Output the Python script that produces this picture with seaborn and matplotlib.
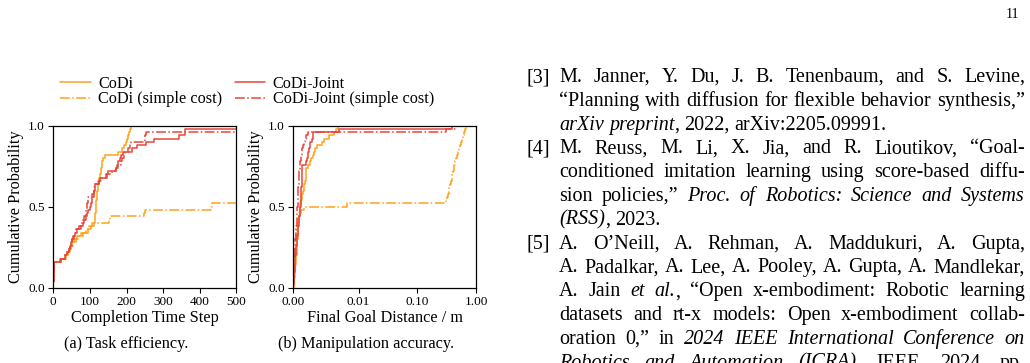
import matplotlib
matplotlib.use("Agg")
import matplotlib.pyplot as plt
import numpy as np
import pandas as pd
import seaborn as sns
from matplotlib.lines import Line2D

# ---------------- data ----------------
FAIL = 1000  # episodes that did not finish inside the 500-step horizon

labels = ["CoDi", "CoDi (simple cost)", "CoDi-Joint", "CoDi-Joint (simple cost)"]

codi_steps = [0, 0, 1, 1, 1, 2, 2, 2,
              20, 35, 40, 44, 47, 52, 57, 65, 75, 95, 102, 110,
              113, 114, 115, 116, 117, 118, 118, 119, 120, 120, 121, 122, 123,
              126, 128, 129, 130, 132, 134, 136, 140,
              178, 188, 192, 198, 200, 203, 206, 209, 212]
codi_simple_steps = [0, 0, 1, 1, 1, 2, 2, 2,
                     22, 33, 40, 45, 48, 55, 62, 70, 80, 90, 98, 105,
                     152, 156, 247, 250, 430, 434] + [FAIL] * 24
joint_steps = [0, 0, 1, 1, 1, 2, 2, 2,
               18, 33, 38, 42, 45, 48, 50, 55, 60, 65,
               75, 80, 85, 88, 92, 96, 100, 102, 105, 107,
               110, 112, 113, 115, 125, 128, 148, 150, 172, 175,
               178, 182, 185, 190, 215, 228, 254, 275, 344, 359,
               359, FAIL]
joint_simple_steps = [0, 0, 1, 1, 1, 2, 2, 2,
                      20, 32, 37, 42, 46, 50, 52, 57, 60, 63,
                      70, 75, 80, 85, 88, 90, 92, 93, 94, 95,
                      106, 110, 112, 114, 125, 130, 145, 160, 170, 178,
                      185, 188, 192, 195, 205, 210, 212, 250, 251, 252,
                      FAIL, FAIL]

codi_dist = [0.00005, 0.0001, 0.00015, 0.0002, 0.00025, 0.0003, 0.0003, 0.00035, 0.0004, 0.00045,
             0.0005, 0.00052, 0.00055, 0.0006, 0.00062, 0.00065, 0.0007, 0.00072, 0.00075, 0.0008,
             0.00085, 0.0009, 0.00095, 0.001, 0.001,
             0.0011, 0.0012, 0.0013, 0.0014, 0.0015, 0.0016, 0.0017, 0.0018, 0.0019, 0.0019, 0.002, 0.002,
             0.0022, 0.0025, 0.0027, 0.003, 0.0031, 0.0033, 0.0036, 0.0044, 0.0047,
             0.0055, 0.0062, 0.0066, 0.0069]
codi_simple_dist = [0.00003, 0.00005, 0.00008, 0.0001, 0.00012, 0.00015, 0.00018, 0.0002, 0.00022, 0.00025,
                    0.00028, 0.0003, 0.00033, 0.00036, 0.0004, 0.00043, 0.00046, 0.0005, 0.00055, 0.0006,
                    0.00065, 0.0007, 0.0008, 0.0012, 0.0016, 0.0082,
                    0.31, 0.32, 0.33, 0.34, 0.35, 0.36, 0.37, 0.38, 0.39, 0.40, 0.41, 0.42,
                    0.44, 0.45, 0.47, 0.49, 0.51, 0.53, 0.55, 0.57, 0.60, 0.62, 0.65, 0.68]
joint_dist = [0.00003, 0.00006, 0.0001, 0.00013, 0.00016, 0.0002, 0.00023, 0.00026, 0.0003, 0.00033,
              0.00036, 0.0004, 0.00045, 0.0005, 0.00055, 0.0006, 0.00065, 0.0007, 0.00075, 0.0008,
              0.00085, 0.0009, 0.00095, 0.001, 0.0011,
              0.00112, 0.00115, 0.00118, 0.0012, 0.00122, 0.00125, 0.00128, 0.0013, 0.00132, 0.00134,
              0.00136, 0.00138, 0.0014,
              0.002, 0.0021, 0.0022, 0.0023, 0.0024, 0.0025, 0.0026, 0.0028, 0.003, 0.003, 0.007, 0.39]
joint_simple_dist = [0.00002, 0.00004, 0.00006, 0.00008, 0.0001, 0.00012, 0.00014, 0.00016, 0.00018, 0.0002,
                     0.00022, 0.00025, 0.00028, 0.0003, 0.00033, 0.00036, 0.0004, 0.00043, 0.00046, 0.0005,
                     0.00052, 0.00055, 0.00058, 0.0006,
                     0.00062, 0.00065, 0.00068, 0.0007, 0.00072, 0.00075, 0.00078, 0.0008, 0.00083, 0.00086,
                     0.0009, 0.00093, 0.00096, 0.001, 0.0011,
                     0.0012, 0.00125, 0.0013, 0.0014, 0.0015, 0.0016, 0.0018, 0.002, 0.0022, 0.3, 0.45]

step_ticks = [0, 100, 200, 300, 400, 500]
dist_ticks = [0.0, 0.01, 0.1, 1.0]
dist_ticklabels = ["0.00", "0.01", "0.10", "1.00"]
prob_ticks = [0.0, 0.5, 1.0]
prob_ticklabels = ["0.0", "0.5", "1.0"]

ref_lines = [
    ("[3]", "M. Janner, Y. Du, J. B. Tenenbaum, and S. Levine,", True),
    (None, "\u201cPlanning with diffusion for flexible behavior synthesis,\u201d", True),
    (None, "*arXiv preprint*, 2022, arXiv:2205.09991.", False),
    ("[4]", "M. Reuss, M. Li, X. Jia, and R. Lioutikov, \u201cGoal-", True),
    (None, "conditioned imitation learning using score-based diffu-", True),
    (None, "sion policies,\u201d *Proc. of Robotics: Science and Systems*", True),
    (None, "*(RSS)*, 2023.", False),
    ("[5]", "A. O\u2019Neill, A. Rehman, A. Maddukuri, A. Gupta,", True),
    (None, "A. Padalkar, A. Lee, A. Pooley, A. Gupta, A. Mandlekar,", True),
    (None, "A. Jain *et al.*, \u201cOpen x-embodiment: Robotic learning", True),
    (None, "datasets and rt-x models: Open x-embodiment collab-", True),
    (None, "oration 0,\u201d in *2024 IEEE International Conference on*", True),
    (None, "*Robotics and Automation (ICRA)*. IEEE, 2024, pp.", True),
]

# ---------------- style ----------------
sns.set_style("ticks")
plt.rcParams["font.family"] = ["Liberation Serif", "DejaVu Serif"]
plt.rcParams.update({
    "axes.edgecolor": "black", "axes.linewidth": 0.9,
    "xtick.color": "black", "ytick.color": "black",
    "text.color": "black", "axes.labelcolor": "black",
    "xtick.major.size": 3.5, "ytick.major.size": 3.5,
    "xtick.major.width": 0.8, "ytick.major.width": 0.8,
})

ORANGE = "#FFA31A"
RED = "#E8453C"
colors = [ORANGE, ORANGE, RED, RED]
styles = ["-", "-.", "-", "-."]
LW = 1.1

W, H = 1030, 363
fig = plt.figure(figsize=(W / 100, H / 100), dpi=100)

def px_rect(x0, y_top, x1, y_bot):
    return [x0 / W, 1 - y_bot / H, (x1 - x0) / W, (y_bot - y_top) / H]

ax1 = fig.add_axes(px_rect(53.3, 125.7, 236.3, 287.7))
ax2 = fig.add_axes(px_rect(293.3, 125.7, 476.3, 287.7))

TICK_FS = 9.5
LAB_FS = 11.7

for vals, c, ls in zip([codi_steps, codi_simple_steps, joint_steps, joint_simple_steps], colors, styles):
    sns.ecdfplot(x=np.array(vals, dtype=float), ax=ax1, color=c, linestyle=ls, linewidth=LW)
for vals, c, ls in zip([codi_dist, codi_simple_dist, joint_dist, joint_simple_dist], colors, styles):
    sns.ecdfplot(x=np.array(vals, dtype=float), ax=ax2, color=c, linestyle=ls, linewidth=LW)

ax1.set_xlim(0, 500)
ax1.set_xticks(step_ticks)
ax1.set_xlabel("Completion Time Step", fontsize=LAB_FS, labelpad=1.5)

ax2.set_xscale("symlog", linthresh=0.01, linscale=1.0)
ax2.set_xlim(0, 1.0)
ax2.set_xticks(dist_ticks)
ax2.set_xticklabels(dist_ticklabels)
ax2.xaxis.set_minor_locator(matplotlib.ticker.NullLocator())
ax2.set_xlabel("Final Goal Distance / m", fontsize=LAB_FS, labelpad=1.5)

for ax in (ax1, ax2):
    ax.set_ylim(0, 1.0)
    ax.set_yticks(prob_ticks)
    ax.set_yticklabels(prob_ticklabels)
    ax.set_ylabel("Cumulative Probability", fontsize=LAB_FS, labelpad=3)
    ax.tick_params(labelsize=TICK_FS, pad=2.5)
    for s in ax.spines.values():
        s.set_visible(True)
        s.set_color("black")

handles = [Line2D([], [], color=c, linestyle=ls, linewidth=LW) for c, ls in zip(colors, styles)]
fig.legend(handles, labels, ncol=2, loc="upper left",
           bbox_to_anchor=(60 / W, 1 - 76 / H), frameon=False, fontsize=LAB_FS,
           handlelength=1.9, handletextpad=0.45, columnspacing=0.75,
           labelspacing=-0.05, borderpad=0.0, borderaxespad=0.0)

fig.text(126 / W, 1 - 344 / H, "(a) Task efficiency.", ha="center", va="center", fontsize=LAB_FS)
fig.text(366 / W, 1 - 344 / H, "(b) Manipulation accuracy.", ha="center", va="center", fontsize=LAB_FS)

# ---------------- reference column on the right ----------------
REF_FS = 14.5
renderer = fig.canvas.get_renderer()

def parse(line):
    words, ital = [], False
    for w in line.split(" "):
        segs, buf = [], ""
        for ch in w:
            if ch == "*":
                if buf:
                    segs.append((buf, ital))
                    buf = ""
                ital = not ital
            else:
                buf += ch
        if buf:
            segs.append((buf, ital))
        words.append(segs)
    return words

def width(s, ital):
    t = fig.text(0, 0, s, fontsize=REF_FS, style="italic" if ital else "normal")
    w = t.get_window_extent(renderer).width
    t.remove()
    return w

def put(x, y, s, ital):
    fig.text(x / W, 1 - y / H, s, fontsize=REF_FS, style="italic" if ital else "normal",
             ha="left", va="baseline")

LABEL_X = 527.0
TEXT_X = 559.0
RIGHT_X = 1025.0
BASE0 = 82.0
LSTEP = 23.8
space_w = width("a a", False) - 2 * width("a", False)

for i, (lab, text, justify) in enumerate(ref_lines):
    y = BASE0 + i * LSTEP
    if lab is not None:
        put(LABEL_X, y, lab, False)
    words = parse(text)
    wws = [[width(s, it) for s, it in segs] for segs in words]
    tot = sum(sum(ws) for ws in wws)
    if justify and len(words) > 1:
        gap = (RIGHT_X - TEXT_X - tot) / (len(words) - 1)
    else:
        gap = space_w
    x = TEXT_X
    for segs, ws in zip(words, wws):
        for (s, it), w in zip(segs, ws):
            put(x, y, s, it)
            x += w
        x += gap

fig.text(1019 / W, 1 - 14 / H, "11", ha="right", va="center", fontsize=10)

fig.savefig("out.png", dpi=100)
